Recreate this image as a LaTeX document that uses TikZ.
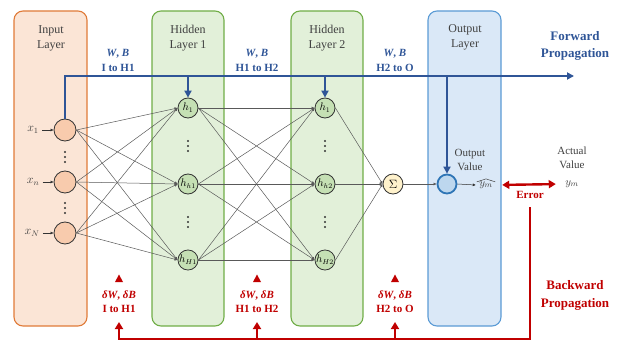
\documentclass[tikz,border=0pt]{standalone}
\usepackage{fontspec}
\setmainfont{Liberation Serif}
\usetikzlibrary{arrows.meta}
\definecolor{inFill}{HTML}{FBE5D6}
\definecolor{inDraw}{HTML}{E07B39}
\definecolor{inNode}{HTML}{F8CBAD}
\definecolor{hFill}{HTML}{E2F0D9}
\definecolor{hDraw}{HTML}{70AD47}
\definecolor{hNode}{HTML}{C5E0B4}
\definecolor{oFill}{HTML}{DAE8F7}
\definecolor{oDraw}{HTML}{5B9BD5}
\definecolor{oNode}{HTML}{BDD7EE}
\definecolor{oRing}{HTML}{2E75B6}
\definecolor{sFill}{HTML}{FFF2CC}
\definecolor{fBlue}{HTML}{2F5597}
\definecolor{bRed}{HTML}{C00000}
\definecolor{tGray}{HTML}{404040}
\begin{document}
\begin{tikzpicture}[x=1pt,y=-1pt,
  layerbox/.style={draw, rounded corners=9pt, line width=1.1pt, minimum height=315pt, inner sep=0pt},
  title/.style={align=center, text=tGray, font=\fontsize{12}{15}\selectfont},
  neuron/.style={circle, draw=black!80, line width=0.8pt, inner sep=0pt},
  innode/.style={neuron, fill=inNode, minimum size=22pt},
  hnode/.style={neuron, fill=hNode, minimum size=20pt, font=\fontsize{10.5}{10.5}\selectfont},
  conn/.style={draw=black!65, line width=0.5pt, -{Latex[length=3pt,width=3pt]}},
  wlabel/.style={align=center, text=fBlue, font=\bfseries\fontsize{11}{14.5}\selectfont},
  dlabel/.style={align=center, text=bRed, font=\bfseries\fontsize{11}{14.5}\selectfont},
  bigblue/.style={align=center, text=fBlue, font=\bfseries\fontsize{13}{17}\selectfont},
  bigred/.style={align=center, text=bRed, font=\bfseries\fontsize{13}{18}\selectfont},
  fwd/.style={draw=fBlue, line width=2pt, -{Triangle[length=7pt,width=7pt]}},
  bwd/.style={draw=bRed, line width=2.4pt, -{Triangle[length=7pt,width=8pt]}},
  valtext/.style={align=center, text=tGray, font=\fontsize{11}{14}\selectfont},
  xlab/.style={font=\fontsize{11.5}{11.5}\selectfont, text=tGray},
  tinyarrow/.style={draw=black!80, line width=0.5pt, -{Latex[length=3pt,width=3pt]}}
]
\useasboundingbox (0,0) rectangle (618,342);

% layer boxes
\node[layerbox, fill=inFill, draw=inDraw, minimum width=73pt] (inbox) at (50.5,168.5) {};
\node[layerbox, fill=hFill, draw=hDraw, minimum width=72pt] (h1box) at (188,168.5) {};
\node[layerbox, fill=hFill, draw=hDraw, minimum width=72pt] (h2box) at (327,168.5) {};
\node[layerbox, fill=oFill, draw=oDraw, minimum width=73pt] (outbox) at (464.5,168.5) {};

% titles
\node[title] (tin) at (51,38.5) {Input\\Layer};
\node[title] (th1) at (188,38.5) {Hidden\\Layer 1};
\node[title] (th2) at (327,38.5) {Hidden\\Layer 2};
\node[title] (tout) at (465,37.5) {Output\\Layer};

% neurons
\node[innode] (x1) at (65,130) {};
\node[innode] (xn) at (65,182) {};
\node[innode] (xN) at (65,233) {};
\node[hnode] (h11) at (188,108) {$h_1$};
\node[hnode] (h1h) at (188,184) {$h_{h1}$};
\node[hnode] (h1H) at (188,260) {$h_{H1}$};
\node[hnode] (h21) at (325,108) {$h_1$};
\node[hnode] (h2h) at (325,184) {$h_{h2}$};
\node[hnode] (h2H) at (325,260) {$h_{H2}$};
\node[neuron, fill=sFill, minimum size=20pt, font=\fontsize{12.5}{12.5}\selectfont] (sig) at (393,184) {$\Sigma$};
\node[circle, draw=oRing, fill=oNode, line width=1.8pt, minimum size=19pt, inner sep=0pt] (out) at (447,184) {};

% input labels
\node[xlab] (lx1) at (33,130) {$x_1$};
\node[xlab] (lxn) at (33,182) {$x_n$};
\node[xlab] (lxN) at (32,233) {$x_N$};
\draw[tinyarrow] (lx1.east) -- (x1.west);
\draw[tinyarrow] (lxn.east) -- (xn.west);
\draw[tinyarrow] (lxN.east) -- (xN.west);

% vertical dots
\foreach \px/\py in {65/157, 65/208, 188/146, 188/222, 325/146, 325/222}{
  \foreach \d in {-5,0,5}{ \fill[black!80] (\px,\py+\d) circle (1.2pt); }
}

% connections
\foreach \a in {x1,xn,xN}{\foreach \b in {h11,h1h,h1H}{\draw[conn] (\a.east) -- (\b.west);}}
\foreach \a in {h11,h1h,h1H}{\foreach \b in {h21,h2h,h2H}{\draw[conn] (\a.east) -- (\b.west);}}
\foreach \a in {h21,h2h,h2H}{\draw[conn] (\a.east) -- (sig.west);}
\draw[conn] (sig.east) -- (out.west);

% output values
\node[font=\fontsize{11}{11}\selectfont, text=tGray, inner ysep=2pt] (yhat) at (486,185) {$y_m$};
\draw[tGray, line width=0.5pt] ([xshift=1pt,yshift=-2.5pt]yhat.north west) -- ([yshift=0.5pt]yhat.north) -- ([xshift=-1pt,yshift=-2.5pt]yhat.north east);
\node[font=\fontsize{11}{11}\selectfont, text=tGray] (ym) at (572,184) {$y_m$};
\draw[tinyarrow] (out.east) -- (yhat.west);
\node[valtext] (ov) at (470,159.5) {Output\\Value};
\node[valtext] (av) at (572,158) {Actual\\Value};
\draw[draw=bRed, line width=2.4pt, {Triangle[length=7pt,width=8pt]}-{Triangle[length=7pt,width=8pt]}, shorten <=6pt, shorten >=6pt] (yhat.east) -- (ym.west);
\node[dlabel] (err) at (530,195) {Error};

% forward propagation
\coordinate (fend) at (574,76);
\coordinate (b1) at (188,76);
\coordinate (b2) at (325,76);
\coordinate (b3) at (447,76);
\draw[fwd] (x1.north) |- (fend);
\draw[fwd] (b1) -- (h11.north);
\draw[fwd] (b2) -- (h21.north);
\draw[fwd] (b3) -- (out.north);
\node[wlabel] (w1) at (118,60.5) {\textit{W}, \textit{B}\\I to H1};
\node[wlabel] (w2) at (257,60.5) {\textit{W}, \textit{B}\\H1 to H2};
\node[wlabel] (w3) at (395,60.5) {\textit{W}, \textit{B}\\H2 to O};
\node[bigblue] (fp) at (575,46) {Forward\\Propagation};

% backward propagation
\node[dlabel] (d1) at (119,301.5) {\textit{δW}, \textit{δB}\\I to H1};
\node[dlabel] (d2) at (257,301.5) {\textit{δW}, \textit{δB}\\H1 to H2};
\node[dlabel] (d3) at (395,301.5) {\textit{δW}, \textit{δB}\\H2 to O};
\foreach \px in {119,257,395}{\fill[bRed] (\px-4,282) -- (\px+4,282) -- (\px,274.5) -- cycle;}
\coordinate (errb) at (530,207);
\coordinate (rc1) at (119,339);
\coordinate (rt1) at (119,322);
\coordinate (rc2) at (257,339);
\coordinate (rt2) at (257,322);
\coordinate (rc3) at (395,339);
\coordinate (rt3) at (395,322);
\draw[bwd] (errb) |- (rc1) -- (rt1);
\draw[bwd] (rc2) -- (rt2);
\draw[bwd] (rc3) -- (rt3);
\node[bigred] (bp) at (575,295) {Backward\\Propagation};
\end{tikzpicture}
\end{document}
